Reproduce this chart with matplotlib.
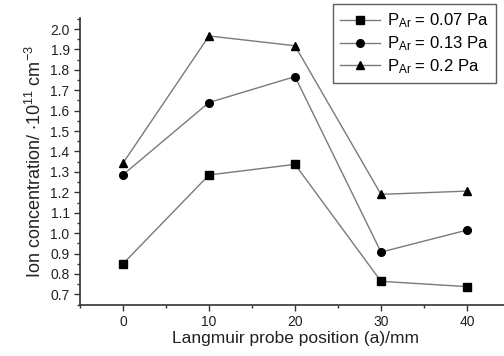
import matplotlib
matplotlib.use("Agg")
import matplotlib.pyplot as plt
from matplotlib.ticker import MultipleLocator

plt.rcParams["font.family"] = ["Liberation Sans", "DejaVu Sans"]
plt.rcParams["mathtext.default"] = "regular"

# probe positions (mm) and ion concentration (1e11 cm^-3)
positions = [0, 10, 20, 30, 40]
conc_007 = [0.85, 1.285, 1.337, 0.764, 0.738]
conc_013 = [1.286, 1.64, 1.767, 0.907, 1.015]
conc_020 = [1.343, 1.966, 1.918, 1.19, 1.206]
series_labels = ["P$_{Ar}$ = 0.07 Pa", "P$_{Ar}$ = 0.13 Pa", "P$_{Ar}$ = 0.2 Pa"]

fig = plt.figure(figsize=(5.04, 3.56), dpi=100)
ax = fig.add_axes([80 / 504, 51 / 356, 430 / 504, 287 / 356])

line_color = "#7a7a7a"
for vals, mk, lab in zip([conc_007, conc_013, conc_020], ["s", "o", "^"], series_labels):
    ax.plot(positions, vals, color=line_color, lw=1.0, marker=mk, ms=5.5,
            mfc="black", mec="black", label=lab)

ax.set_xlim(-5, 45)
ax.set_ylim(0.648, 2.054)
ax.xaxis.set_major_locator(MultipleLocator(10))
ax.xaxis.set_minor_locator(MultipleLocator(5))
ax.yaxis.set_major_locator(MultipleLocator(0.1))
ax.yaxis.set_minor_locator(MultipleLocator(0.05))
ax.yaxis.set_major_formatter(matplotlib.ticker.FormatStrFormatter("%.1f"))

for s in ["top", "right"]:
    ax.spines[s].set_visible(False)
for s in ["left", "bottom"]:
    ax.spines[s].set_linewidth(1.2)
    ax.spines[s].set_color("#333333")

ax.tick_params(which="major", direction="out", length=4, width=1, labelsize=10,
               colors="#333333", labelcolor="#222222")
ax.tick_params(which="minor", direction="out", length=2, width=1, colors="#333333")

ax.set_xlabel("Langmuir probe position (a)/mm", fontsize=12.5, color="#222222", labelpad=1)
ax.set_ylabel("Ion concentration/ $\\cdot$10$^{11}$ cm$^{-3}$", fontsize=13,
              color="#222222", labelpad=4)

leg = ax.legend(loc="upper right", bbox_to_anchor=(496 / 504, 1 - 4 / 356),
                bbox_transform=fig.transFigure, fontsize=12, frameon=True,
                fancybox=False, edgecolor="#333333", borderpad=0.45,
                labelspacing=0.25, handlelength=2.4, handletextpad=0.4,
                borderaxespad=0)
leg.get_frame().set_linewidth(1.0)

fig.savefig("out.png", dpi=100)
